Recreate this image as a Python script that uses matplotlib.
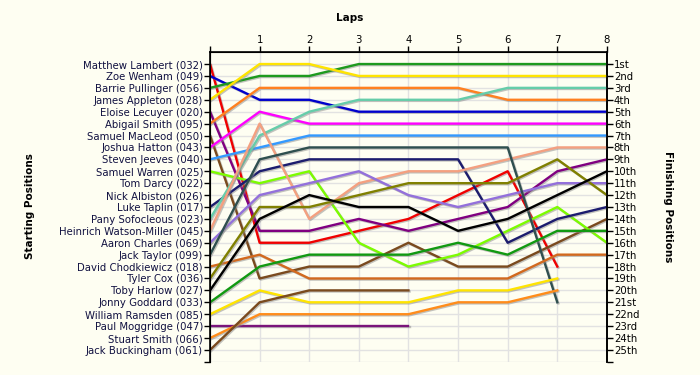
import matplotlib
matplotlib.use("Agg")
import matplotlib.pyplot as plt
import matplotlib.patheffects as pe

drivers = [
    "Matthew Lambert (032)", "Zoe Wenham (049)", "Barrie Pullinger (056)",
    "James Appleton (028)", "Eloise Lecuyer (020)", "Abigail Smith (095)",
    "Samuel MacLeod (050)", "Joshua Hatton (043)", "Steven Jeeves (040)",
    "Samuel Warren (025)", "Tom Darcy (022)", "Nick Albiston (026)",
    "Luke Taplin (017)", "Pany Sofocleous (023)", "Heinrich Watson-Miller (045)",
    "Aaron Charles (069)", "Jack Taylor (099)", "David Chodkiewicz (018)",
    "Tyler Cox (036)", "Toby Harlow (027)", "Jonny Goddard (033)",
    "William Ramsden (085)", "Paul Moggridge (047)", "Stuart Smith (066)",
    "Jack Buckingham (061)",
]

# position at each lap, starting with lap 0
positions = [
    [1, 16, 16, 15, 14, 12, 10, 18],
    [2, 4, 4, 5, 5, 5, 5, 5, 5],
    [3, 2, 2, 1, 1, 1, 1, 1, 1],
    [4, 1, 1, 2, 2, 2, 2, 2, 2],
    [5, 15, 15, 14, 15, 14, 13, 10, 9],
    [6, 3, 3, 3, 3, 3, 4, 4, 4],
    [7, 19, 18, 18, 16, 18, 18, 16, 14],
    [8, 5, 6, 6, 6, 6, 6, 6, 6],
    [9, 8, 7, 7, 7, 7, 7, 7, 7],
    [10, 11, 10, 16, 18, 17, 15, 13, 16],
    [11],
    [12],
    [13, 10, 9, 9, 9, 9, 16, 14, 13],
    [14, 7, 5, 4, 4, 4, 3, 3, 3],
    [15, 6, 14, 11, 10, 10, 9, 8, 8],
    [16, 12, 11, 10, 12, 13, 12, 11, 11],
    [17, 9, 8, 8, 8, 8, 8, 21],
    [18, 17, 19, 19, 19, 19, 19, 17, 17],
    [19, 13, 13, 12, 11, 11, 11, 9, 12],
    [20, 14, 12, 13, 13, 15, 14, 12, 10],
    [21, 18, 17, 17, 17, 16, 17, 15, 15],
    [22, 20, 21, 21, 21, 20, 20, 19],
    [23, 23, 23, 23, 23],
    [24, 22, 22, 22, 22, 21, 21, 20],
    [25, 21, 20, 20, 20],
]

colors = [
    "#F00000", "#0000CC", "#1E9A1E", "#FFE400", "#800080", "#FF8020",
    "#7A4A1E", "#FF00FF", "#3399FF", "#7CFC00", "#999999", "#999999",
    "#1C1C6E", "#66CDAA", "#F4A080", "#9370DB", "#2F4F4F", "#D2691E",
    "#808000", "#000000", "#119911", "#FFE400", "#7A147A", "#FF8C1A",
    "#7A4A1E",
]

laps = list(range(9))
finish_labels = ["1st", "2nd", "3rd"] + [f"{i}th" for i in range(4, 21)] + \
    ["21st", "22nd", "23rd", "24th", "25th"]

bg = "#FEFEF2"
fig = plt.figure(figsize=(7, 3.75), dpi=100, facecolor=bg)
ax = fig.add_axes([0.3, 0.035, 0.567, 0.826], facecolor=bg)

shadow = [pe.SimpleLineShadow(offset=(0.8, -0.8), shadow_color="#888888", alpha=0.5),
          pe.Normal()]
for pos, c in zip(positions, colors):
    ax.plot(laps[:len(pos)], pos, color=c, lw=1.7, path_effects=shadow, zorder=3)

ax.set_xlim(0, 8)
ax.set_ylim(26, 0)
ax.set_xticks(laps)
ax.set_xticklabels([""] + [str(i) for i in laps[1:]], fontsize=7.3)
ax.xaxis.tick_top()
ax.set_yticks(list(range(1, 27)))
ax.set_yticklabels(drivers + [""], fontsize=7.3, color="#101040")
ax.grid(True, color="#E2E2E2", lw=1, zorder=0)
ax.set_axisbelow(True)
ax.spines["bottom"].set_visible(False)
for s in ("top", "left", "right"):
    ax.spines[s].set_linewidth(1.2)
ax.tick_params(axis="both", length=4, width=1, pad=1)

ax2 = ax.twinx()
ax2.set_ylim(26, 0)
ax2.set_yticks(list(range(1, 27)))
ax2.set_yticklabels(finish_labels + [""], fontsize=7.3)
ax2.spines["bottom"].set_visible(False)
ax2.spines["right"].set_linewidth(1.2)
ax2.tick_params(axis="y", length=4, width=1, pad=1)

fig.text(0.5, 0.952, "Laps", ha="center", va="center", fontsize=7.5, fontweight="bold")
fig.text(0.043, 0.45, "Starting Positions", rotation=90, ha="center", va="center",
         fontsize=7.5, fontweight="bold")
fig.text(0.954, 0.45, "Finishing Positions", rotation=-90, ha="center", va="center",
         fontsize=7.5, fontweight="bold")

fig.savefig("out.png", dpi=100, facecolor=bg)
